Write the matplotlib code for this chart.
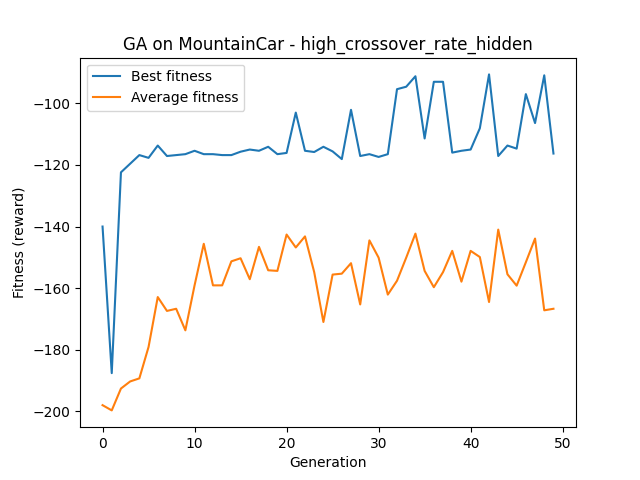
import matplotlib
matplotlib.use("Agg")
import matplotlib.pyplot as plt

generations = list(range(50))
best_fitness = [-140.0, -187.6, -122.4, -119.6, -116.8, -117.7, -113.7, -117.1, -116.8, -116.5,
                -115.4, -116.5, -116.5, -116.8, -116.8, -115.7, -115.0, -115.4, -114.1, -116.5,
                -116.1, -103.0, -115.4, -115.8, -114.1, -115.6, -118.1, -102.1, -117.1, -116.5,
                -117.4, -116.5, -95.4, -94.6, -91.2, -111.4, -93.0, -93.0, -116.0, -115.4,
                -115.0, -108.1, -90.6, -117.1, -113.7, -114.7, -97.0, -106.4, -90.9, -116.3]
avg_fitness = [-198.0, -199.7, -192.6, -190.3, -189.3, -179.1, -162.9, -167.4, -166.7, -173.7,
               -159.1, -145.6, -159.1, -159.1, -151.3, -150.3, -157.1, -146.6, -154.2, -154.4,
               -142.6, -146.8, -143.2, -154.8, -171.0, -155.6, -155.3, -151.9, -165.3, -144.5,
               -150.1, -162.1, -157.6, -150.1, -142.3, -154.4, -159.7, -154.8, -147.9, -157.9,
               -147.9, -149.9, -164.5, -141.0, -155.5, -159.2, -151.6, -143.9, -167.2, -166.7]

fig, ax = plt.subplots(figsize=(6.4, 4.8), dpi=100)
ax.plot(generations, best_fitness, label="Best fitness")
ax.plot(generations, avg_fitness, label="Average fitness")
ax.set_title("GA on MountainCar - high_crossover_rate_hidden")
ax.set_xlabel("Generation")
ax.set_ylabel("Fitness (reward)")
ax.legend(loc="upper left")
fig.savefig("out.png", dpi=100)
